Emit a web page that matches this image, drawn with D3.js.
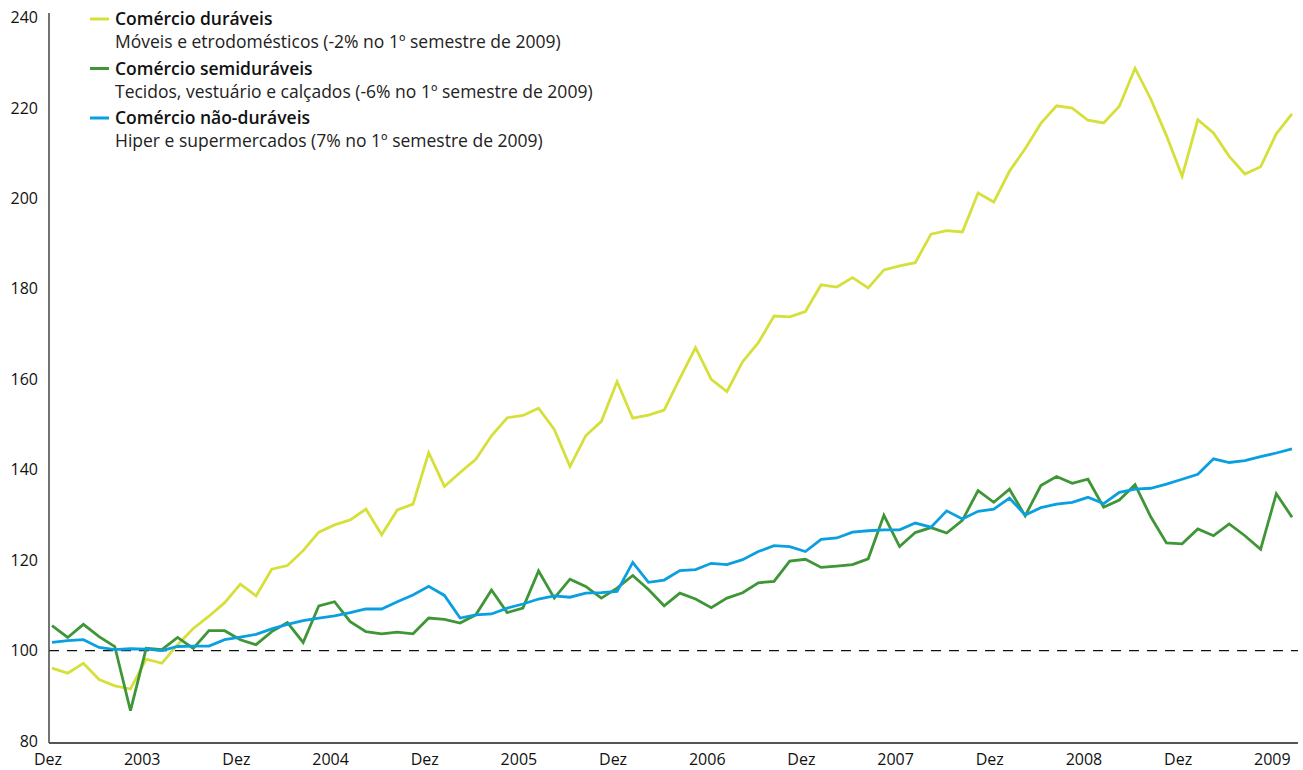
<!DOCTYPE html>
<html>
<head>
<meta charset="utf-8">
<script src="https://cdn.jsdelivr.net/npm/d3@7"></script>
<style>
  body { margin: 0; background: #fff; }
  svg text { font-family: "Open Sans", "DejaVu Sans", sans-serif; }
</style>
</head>
<body>
<svg id="chart"></svg>
<script>
const width = 1303;
const height = 770;

// monthly index, Dez 2002 .. Jul 2009
const duraveis = [
  96.1, 95.0, 97.2, 93.6, 92.2, 91.5, 98.1, 97.2, 101.3, 104.9, 107.6, 110.6,
  114.7, 112.1, 118.0, 118.8, 122.1, 126.2, 127.8, 128.9, 131.3, 125.6, 131.1, 132.4,
  143.8, 136.3, 139.4, 142.3, 147.5, 151.5, 152.0, 153.6, 148.9, 140.7, 147.5, 150.7,
  159.5, 151.4, 152.1, 153.2, 160.2, 167.0, 160.0, 157.3, 163.9, 168.1, 174.0, 173.8,
  175.0, 180.9, 180.4, 182.5, 180.2, 184.2, 185.1, 185.8, 192.1, 192.9, 192.6, 201.2,
  199.2, 206.0, 211.0, 216.6, 220.5, 220.0, 217.3, 216.7, 220.4, 228.8, 222.0, 213.9,
  204.9, 217.4, 214.5, 209.3, 205.4, 207.0, 214.3, 218.7
];
const semiduraveis = [
  105.5, 102.9, 105.8, 103.1, 100.9, 86.7, 100.5, 100.2, 102.9, 100.5, 104.4, 104.4,
  102.4, 101.3, 104.2, 106.2, 101.8, 109.9, 110.8, 106.4, 104.2, 103.7, 104.1, 103.7,
  107.2, 106.9, 106.1, 107.9, 113.4, 108.4, 109.4, 117.6, 111.6, 115.8, 114.2, 111.6,
  113.8, 116.6, 113.5, 109.9, 112.7, 111.4, 109.5, 111.6, 112.8, 115.0, 115.3, 119.8,
  120.2, 118.4, 118.7, 119.0, 120.3, 129.9, 123.0, 126.1, 127.2, 126.0, 128.8, 135.4,
  132.8, 135.7, 129.8, 136.5, 138.5, 137.0, 137.9, 131.7, 133.3, 136.7, 129.6, 123.8,
  123.6, 126.9, 125.4, 128.0, 125.4, 122.4, 134.7, 129.5
];
const naoDuraveis = [
  101.8, 102.2, 102.4, 100.7, 100.2, 100.4, 100.3, 100.0, 100.9, 101.0, 101.0, 102.4,
  103.0, 103.6, 104.8, 105.8, 106.6, 107.2, 107.7, 108.4, 109.2, 109.2, 110.8, 112.3,
  114.2, 112.2, 107.2, 107.9, 108.1, 109.4, 110.3, 111.4, 112.1, 111.8, 112.7, 112.8,
  113.1, 119.5, 115.1, 115.6, 117.7, 117.9, 119.3, 119.0, 120.1, 121.9, 123.2, 123.0,
  121.9, 124.6, 124.9, 126.2, 126.5, 126.7, 126.7, 128.2, 127.3, 130.9, 129.1, 130.8,
  131.3, 133.7, 130.0, 131.6, 132.4, 132.8, 133.9, 132.5, 135.0, 135.7, 135.9, 136.8,
  137.9, 139.0, 142.4, 141.6, 142.0, 142.9, 143.7, 144.6
];

const tickIndex = [0, 6, 12, 18, 24, 30, 36, 42, 48, 54, 60, 66, 72, 78];
const tickLabels = ["Dez", "2003", "Dez", "2004", "Dez", "2005", "Dez", "2006",
  "Dez", "2007", "Dez", "2008", "Dez", "2009"];
const yTicks = [80, 100, 120, 140, 160, 180, 200, 220, 240];

const seriesNames = ["Comércio duráveis", "Comércio semiduráveis", "Comércio não-duráveis"];
const seriesNotes = [
  "Móveis e etrodomésticos (-2% no 1º semestre de 2009)",
  "Tecidos, vestuário e calçados (-6% no 1º semestre de 2009)",
  "Hiper e supermercados (7% no 1º semestre de 2009)"
];
const seriesColors = ["#d5e03a", "#3e9636", "#0aa0e0"];
const series = [duraveis, semiduraveis, naoDuraveis];

const svg = d3.select("#chart")
  .attr("width", width)
  .attr("height", height);

const x = d3.scaleLinear().domain([0, duraveis.length - 1]).range([52, 1292]);
const y = d3.scaleLinear().domain([80, 240]).range([741, 17.6]);

const axisLeft = 49;
const axisRight = 1298;

// reference line at 100
svg.append("line")
  .attr("x1", axisLeft).attr("x2", axisRight)
  .attr("y1", y(100)).attr("y2", y(100))
  .attr("stroke", "#111")
  .attr("stroke-width", 1.3)
  .attr("stroke-dasharray", "10,8");

// axes lines
svg.append("line")
  .attr("x1", axisLeft).attr("x2", axisLeft)
  .attr("y1", 13).attr("y2", 743)
  .attr("stroke", "#444").attr("stroke-width", 1.5);
svg.append("line")
  .attr("x1", axisLeft).attr("x2", axisRight)
  .attr("y1", 743).attr("y2", 743)
  .attr("stroke", "#555").attr("stroke-width", 2);

svg.append("g")
  .selectAll("text")
  .data(yTicks)
  .join("text")
  .attr("x", 38)
  .attr("y", d => y(d))
  .attr("dy", "0.35em")
  .attr("text-anchor", "end")
  .style("font-size", "16px")
  .style("fill", "#111")
  .text(d => d);

svg.append("g")
  .selectAll("text")
  .data(tickIndex)
  .join("text")
  .attr("x", d => x(d) - 4)
  .attr("y", 759)
  .attr("dy", "0.35em")
  .attr("text-anchor", "middle")
  .style("font-size", "16px")
  .style("fill", "#111")
  .text((d, i) => tickLabels[i]);

const line = d3.line()
  .x((d, i) => x(i))
  .y(d => y(d));

svg.append("g")
  .selectAll("path")
  .data(series)
  .join("path")
  .attr("fill", "none")
  .attr("stroke", (d, i) => seriesColors[i])
  .attr("stroke-width", 2.8)
  .attr("stroke-linejoin", "miter")
  .attr("d", line);

// legend
const legend = svg.append("g")
  .selectAll("g")
  .data(seriesNames)
  .join("g")
  .attr("transform", (d, i) => `translate(90,${19 + i * 49.5})`);

legend.append("line")
  .attr("x1", 0).attr("x2", 19)
  .attr("y1", 0).attr("y2", 0)
  .attr("stroke", (d, i) => seriesColors[i])
  .attr("stroke-width", 3);

legend.append("text")
  .attr("x", 25)
  .attr("y", 0)
  .attr("dy", "0.35em")
  .style("font-size", "17.5px")
  .style("font-weight", "600")
  .style("fill", "#111")
  .text(d => d);

legend.append("text")
  .attr("x", 25)
  .attr("y", 23)
  .attr("dy", "0.35em")
  .style("font-size", "17.5px")
  .style("fill", "#222")
  .text((d, i) => seriesNotes[i]);
</script>
</body>
</html>
